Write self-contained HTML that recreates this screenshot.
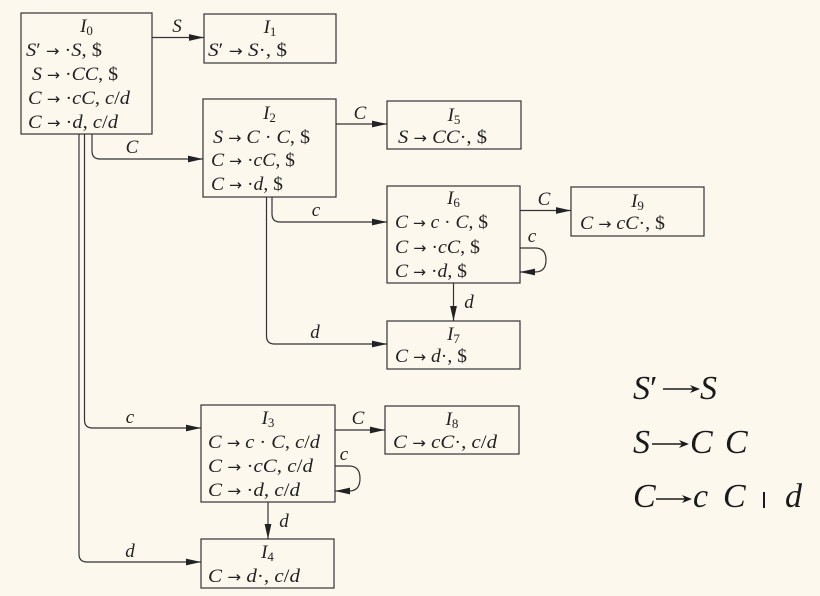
<!DOCTYPE html>
<html><head><meta charset="utf-8"><style>
html,body{margin:0;padding:0;background:#fcf8ee;}
svg{display:block;}
text{font-family:"Liberation Serif","DejaVu Serif",serif;font-size:19px;fill:#222;}
.i{font-style:italic;}
.r{font-family:"DejaVu Sans",sans-serif;font-size:15px;}
.e{fill:none;stroke:#333;stroke-width:1.2;}
.b{fill:none;stroke:#333;stroke-width:1.2;}
.g{font-size:34px;font-style:italic;fill:#1a1a1a;}
</style></head><body>
<svg width="820" height="596" viewBox="0 0 820 596" xmlns="http://www.w3.org/2000/svg">
<defs>
<marker id="a" markerUnits="userSpaceOnUse" markerWidth="16" markerHeight="8" refX="15" refY="4" orient="auto">
<path d="M0,0.6 L15,4 L0,7.4 z" fill="#222"/>
</marker>
</defs>
<rect width="820" height="596" fill="#fcf8ee"/>

<!-- boxes -->
<rect class="b" x="21" y="13" width="131" height="121"/>
<rect class="b" x="204" y="14" width="132" height="49"/>
<rect class="b" x="203" y="99" width="133" height="98"/>
<rect class="b" x="387" y="101" width="134" height="48"/>
<rect class="b" x="387" y="186" width="133" height="97"/>
<rect class="b" x="571" y="187" width="133" height="49"/>
<rect class="b" x="387" y="321" width="133" height="48"/>
<rect class="b" x="201" y="405" width="134" height="97"/>
<rect class="b" x="385" y="406" width="134" height="48"/>
<rect class="b" x="201" y="539" width="133" height="49"/>

<!-- edges -->
<path class="e" d="M152 37.5 H204" marker-end="url(#a)"/>
<path class="e" d="M92 134 V151 Q92 159 100 159 H203" marker-end="url(#a)"/>
<path class="e" d="M84.5 134 V420 Q84.5 428 92.5 428 H201" marker-end="url(#a)"/>
<path class="e" d="M79 134 V554 Q79 562 87 562 H201" marker-end="url(#a)"/>
<path class="e" d="M336 124 H387" marker-end="url(#a)"/>
<path class="e" d="M272 197 V214 Q272 222 280 222 H387" marker-end="url(#a)"/>
<path class="e" d="M266.5 197 V336 Q266.5 344 274.5 344 H387" marker-end="url(#a)"/>
<path class="e" d="M520 210.5 H571" marker-end="url(#a)"/>
<path class="e" d="M520 248 H535 Q546 248 546 260 Q546 272 535 272 H520" marker-end="url(#a)"/>
<path class="e" d="M453.5 283 V321" marker-end="url(#a)"/>
<path class="e" d="M335 430 H385" marker-end="url(#a)"/>
<path class="e" d="M335 466 H349 Q360 466 360 478.5 Q360 491 349 491 H335" marker-end="url(#a)"/>
<path class="e" d="M268 502 V539" marker-end="url(#a)"/>

<!-- edge labels -->
<text class="i" x="177" y="32" text-anchor="middle">S</text>
<text class="i" x="132" y="153" text-anchor="middle">C</text>
<text class="i" x="130" y="423" text-anchor="middle">c</text>
<text class="i" x="130" y="557" text-anchor="middle">d</text>
<text class="i" x="360" y="119" text-anchor="middle">C</text>
<text class="i" x="316" y="216" text-anchor="middle">c</text>
<text class="i" x="315" y="338" text-anchor="middle">d</text>
<text class="i" x="544" y="205" text-anchor="middle">C</text>
<text class="i" x="532" y="242" text-anchor="middle">c</text>
<text class="i" x="469" y="308" text-anchor="middle">d</text>
<text class="i" x="358" y="424" text-anchor="middle">C</text>
<text class="i" x="344" y="460" text-anchor="middle">c</text>
<text class="i" x="284" y="527" text-anchor="middle">d</text>

<!-- titles -->
<text x="86.5" y="32" text-anchor="middle"><tspan class="i">I</tspan><tspan font-size="13" dy="3">0</tspan></text>
<text x="270" y="33" text-anchor="middle"><tspan class="i">I</tspan><tspan font-size="13" dy="3">1</tspan></text>
<text x="269.5" y="119" text-anchor="middle"><tspan class="i">I</tspan><tspan font-size="13" dy="3">2</tspan></text>
<text x="454" y="121" text-anchor="middle"><tspan class="i">I</tspan><tspan font-size="13" dy="3">5</tspan></text>
<text x="453.5" y="204" text-anchor="middle"><tspan class="i">I</tspan><tspan font-size="13" dy="3">6</tspan></text>
<text x="637.5" y="207" text-anchor="middle"><tspan class="i">I</tspan><tspan font-size="13" dy="3">9</tspan></text>
<text x="453.5" y="340" text-anchor="middle"><tspan class="i">I</tspan><tspan font-size="13" dy="3">7</tspan></text>
<text x="268" y="424" text-anchor="middle"><tspan class="i">I</tspan><tspan font-size="13" dy="3">3</tspan></text>
<text x="452" y="425" text-anchor="middle"><tspan class="i">I</tspan><tspan font-size="13" dy="3">8</tspan></text>
<text x="267.5" y="558" text-anchor="middle"><tspan class="i">I</tspan><tspan font-size="13" dy="3">4</tspan></text>

<!-- I0 -->
<text x="26" y="56" textLength="76" lengthAdjust="spacingAndGlyphs"><tspan class="i">S</tspan>′<tspan class="r"> → </tspan>·<tspan class="i">S</tspan>, $</text>
<text x="32" y="80" textLength="86" lengthAdjust="spacingAndGlyphs"><tspan class="i">S</tspan><tspan class="r"> → </tspan>·<tspan class="i">CC</tspan>, $</text>
<text x="28" y="104" textLength="102" lengthAdjust="spacingAndGlyphs"><tspan class="i">C</tspan><tspan class="r"> → </tspan>·<tspan class="i">cC</tspan>, <tspan class="i">c</tspan>/<tspan class="i">d</tspan></text>
<text x="28" y="128" textLength="90" lengthAdjust="spacingAndGlyphs"><tspan class="i">C</tspan><tspan class="r"> → </tspan>·<tspan class="i">d</tspan>, <tspan class="i">c</tspan>/<tspan class="i">d</tspan></text>
<!-- I1 -->
<text x="208" y="56" textLength="79" lengthAdjust="spacingAndGlyphs"><tspan class="i">S</tspan>′<tspan class="r"> → </tspan><tspan class="i">S</tspan>·, $</text>
<!-- I2 -->
<text x="213" y="143" textLength="97" lengthAdjust="spacingAndGlyphs"><tspan class="i">S</tspan><tspan class="r"> → </tspan><tspan class="i">C</tspan> · <tspan class="i">C</tspan>, $</text>
<text x="211" y="166" textLength="84" lengthAdjust="spacingAndGlyphs"><tspan class="i">C</tspan><tspan class="r"> → </tspan>·<tspan class="i">cC</tspan>, $</text>
<text x="211" y="190" textLength="72" lengthAdjust="spacingAndGlyphs"><tspan class="i">C</tspan><tspan class="r"> → </tspan>·<tspan class="i">d</tspan>, $</text>
<!-- I5 -->
<text x="398" y="143" textLength="89" lengthAdjust="spacingAndGlyphs"><tspan class="i">S</tspan><tspan class="r"> → </tspan><tspan class="i">CC</tspan>·, $</text>
<!-- I6 -->
<text x="395" y="228" textLength="93" lengthAdjust="spacingAndGlyphs"><tspan class="i">C</tspan><tspan class="r"> → </tspan><tspan class="i">c</tspan> · <tspan class="i">C</tspan>, $</text>
<text x="395" y="253" textLength="85" lengthAdjust="spacingAndGlyphs"><tspan class="i">C</tspan><tspan class="r"> → </tspan>·<tspan class="i">cC</tspan>, $</text>
<text x="395" y="277" textLength="72" lengthAdjust="spacingAndGlyphs"><tspan class="i">C</tspan><tspan class="r"> → </tspan>·<tspan class="i">d</tspan>, $</text>
<!-- I9 -->
<text x="580" y="229" textLength="85" lengthAdjust="spacingAndGlyphs"><tspan class="i">C</tspan><tspan class="r"> → </tspan><tspan class="i">cC</tspan>·, $</text>
<!-- I7 -->
<text x="395" y="362" textLength="72" lengthAdjust="spacingAndGlyphs"><tspan class="i">C</tspan><tspan class="r"> → </tspan><tspan class="i">d</tspan>·, $</text>
<!-- I3 -->
<text x="208" y="448" textLength="112" lengthAdjust="spacingAndGlyphs"><tspan class="i">C</tspan><tspan class="r"> → </tspan><tspan class="i">c</tspan> · <tspan class="i">C</tspan>, <tspan class="i">c</tspan>/<tspan class="i">d</tspan></text>
<text x="208" y="472" textLength="105" lengthAdjust="spacingAndGlyphs"><tspan class="i">C</tspan><tspan class="r"> → </tspan>·<tspan class="i">cC</tspan>, <tspan class="i">c</tspan>/<tspan class="i">d</tspan></text>
<text x="208" y="496" textLength="92" lengthAdjust="spacingAndGlyphs"><tspan class="i">C</tspan><tspan class="r"> → </tspan>·<tspan class="i">d</tspan>, <tspan class="i">c</tspan>/<tspan class="i">d</tspan></text>
<!-- I8 -->
<text x="393" y="448" textLength="104" lengthAdjust="spacingAndGlyphs"><tspan class="i">C</tspan><tspan class="r"> → </tspan><tspan class="i">cC</tspan>·, <tspan class="i">c</tspan>/<tspan class="i">d</tspan></text>
<!-- I4 -->
<text x="208" y="582" textLength="92" lengthAdjust="spacingAndGlyphs"><tspan class="i">C</tspan><tspan class="r"> → </tspan><tspan class="i">d</tspan>·, <tspan class="i">c</tspan>/<tspan class="i">d</tspan></text>

<!-- grammar -->
<text class="g" x="633" y="399">S<tspan font-style="normal">′</tspan></text>
<line x1="663" y1="389" x2="696" y2="389" stroke="#1a1a1a" stroke-width="1.5"/>
<path d="M690,385 L700,389 L690,393 L693,389 z" fill="#1a1a1a"/>
<text class="g" x="700" y="399">S</text>

<text class="g" x="633" y="453">S</text>
<line x1="652" y1="444" x2="685" y2="444" stroke="#1a1a1a" stroke-width="1.5"/>
<path d="M679,440 L689,444 L679,448 L682,444 z" fill="#1a1a1a"/>
<text class="g" x="690" y="453">C</text>
<text class="g" x="725" y="453">C</text>

<text class="g" x="633" y="507">C</text>
<line x1="656" y1="499" x2="688" y2="499" stroke="#1a1a1a" stroke-width="1.5"/>
<path d="M682,495 L692,499 L682,503 L685,499 z" fill="#1a1a1a"/>
<text class="g" x="693" y="507">c</text>
<text class="g" x="723" y="507">C</text>
<line x1="764" y1="492" x2="764" y2="508" stroke="#1a1a1a" stroke-width="2"/>
<text class="g" x="785" y="507">d</text>
</svg>
</body></html>
